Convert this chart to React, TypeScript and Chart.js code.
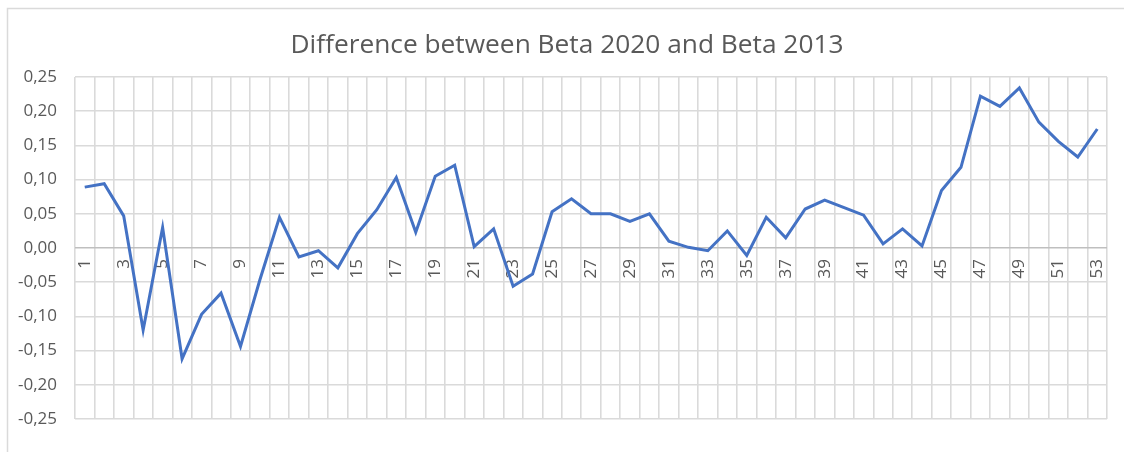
import React, { useEffect, useRef } from "react";
import { Chart, registerables } from "chart.js";

Chart.register(...registerables);

const categories = [
  "1", "2", "3", "4", "5", "6", "7", "8", "9", "10",
  "11", "12", "13", "14", "15", "16", "17", "18", "19", "20",
  "21", "22", "23", "24", "25", "26", "27", "28", "29", "30",
  "31", "32", "33", "34", "35", "36", "37", "38", "39", "40",
  "41", "42", "43", "44", "45", "46", "47", "48", "49", "50",
  "51", "52", "53",
];

const betaDifference = [
  0.089, 0.094, 0.047, -0.12, 0.03, -0.162, -0.097, -0.066, -0.144, -0.046,
  0.045, -0.013, -0.004, -0.029, 0.021, 0.056, 0.103, 0.023, 0.105, 0.121,
  0.002, 0.028, -0.056, -0.038, 0.053, 0.072, 0.05, 0.05, 0.039, 0.05,
  0.01, 0.001, -0.004, 0.025, -0.011, 0.045, 0.015, 0.057, 0.07, 0.059,
  0.048, 0.006, 0.028, 0.003, 0.084, 0.118, 0.222, 0.207, 0.234, 0.184,
  0.156, 0.133, 0.174,
];

const titleText = "Difference between Beta 2020 and Beta 2013";
const yMin = -0.25;
const yMax = 0.25;
const yStep = 0.05;

const textColor = "#595959";
const gridColor = "#dadada";
const zeroLineColor = "#bfbfbf";
const lineColor = "#4472c4";
const fontFamily = "'Open Sans', 'Noto Sans', sans-serif";

const frameAndLabels = {
  id: "frameAndLabels",
  beforeDraw(chart: any) {
    const ctx = chart.ctx;
    ctx.save();
    ctx.strokeStyle = gridColor;
    ctx.lineWidth = 1.5;
    ctx.beginPath();
    ctx.moveTo(7.5, chart.height);
    ctx.lineTo(7.5, 8.5);
    ctx.lineTo(chart.width, 8.5);
    ctx.stroke();
    ctx.fillStyle = textColor;
    ctx.font = `26.3px ${fontFamily}`;
    ctx.textAlign = "center";
    ctx.textBaseline = "alphabetic";
    ctx.fillText(titleText, 567, 53);
    ctx.restore();
  },
  beforeDatasetsDraw(chart: any) {
    const ctx = chart.ctx;
    const xScale = chart.scales.x;
    const yScale = chart.scales.y;
    const y0 = yScale.getPixelForValue(0);
    ctx.save();
    ctx.fillStyle = textColor;
    ctx.font = `17px ${fontFamily}`;
    ctx.textAlign = "right";
    ctx.textBaseline = "middle";
    categories.forEach((label, i) => {
      if (i % 2 !== 0) return;
      const x = xScale.getPixelForValue(i);
      ctx.save();
      ctx.translate(x, y0 + 11);
      ctx.rotate(-Math.PI / 2);
      ctx.fillText(label, 0, 0);
      ctx.restore();
    });
    ctx.restore();
  },
};

export default function App() {
  const canvasRef = useRef<HTMLCanvasElement | null>(null);

  useEffect(() => {
    document.body.style.margin = "0";
    const canvas = canvasRef.current;
    if (!canvas) return;
    const chart = new Chart(canvas, {
      type: "line",
      data: {
        labels: categories,
        datasets: [
          {
            label: "Difference",
            data: betaDifference,
            borderColor: lineColor,
            backgroundColor: lineColor,
            borderWidth: 3,
            pointRadius: 0,
            tension: 0,
            fill: false,
          },
        ],
      },
      options: {
        animation: false,
        responsive: false,
        maintainAspectRatio: false,
        layout: { padding: { left: 0, right: 17, top: 77, bottom: 0 } },
        plugins: {
          legend: { display: false },
          tooltip: { enabled: false },
          title: { display: false },
        },
        scales: {
          x: {
            type: "category",
            offset: true,
            grid: {
              display: true,
              offset: true,
              color: gridColor,
              lineWidth: 1.6,
              drawTicks: false,
            },
            border: { display: false },
            ticks: { display: false },
            afterFit(scale: any) {
              scale.height = 33;
            },
          },
          y: {
            min: yMin,
            max: yMax,
            grid: {
              color: (c: any) =>
                c.tick && Math.abs(c.tick.value) < 1e-9 ? zeroLineColor : gridColor,
              lineWidth: 1.6,
              drawTicks: false,
            },
            border: { display: false },
            ticks: {
              stepSize: yStep,
              color: textColor,
              font: { family: fontFamily, size: 17 },
              padding: 18,
              callback: (v: any) => Number(v).toFixed(2).replace(".", ","),
            },
            afterFit(scale: any) {
              scale.width = 75;
            },
          },
        },
      },
      plugins: [frameAndLabels],
    });
    return () => chart.destroy();
  }, []);

  return (
    <div style={{ width: 1124, height: 452 }}>
      <canvas ref={canvasRef} width={1124} height={452} style={{ display: "block" }} />
    </div>
  );
}
